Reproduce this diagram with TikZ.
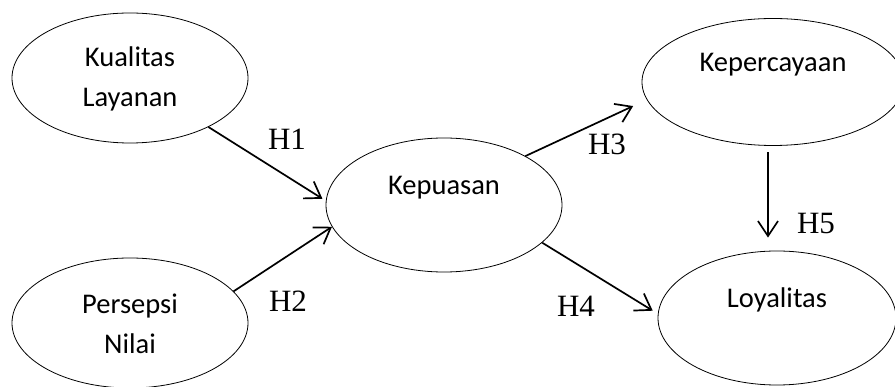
\documentclass[tikz,border=0pt]{standalone}
\usepackage{fontspec}
\setmainfont{Liberation Serif}
\newfontfamily\calib{Carlito}
\usetikzlibrary{shapes.geometric,arrows.meta}

\tikzset{
  oval/.style={draw, ellipse, line width=0.8pt, inner sep=0pt, align=center,
    font=\calib\fontsize{28.5}{40}\selectfont},
  twoline/.style={text height=62pt},
  oneline/.style={text height=20pt, text depth=40pt},
  path arrow/.style={line width=1.7pt,
    -{Straight Barb[length=15pt,width=20pt]}},
  hyp/.style={font=\fontsize{31}{36}\selectfont, inner sep=0pt}
}

\begin{document}
\begin{tikzpicture}[x=1pt,y=-1pt]
  \useasboundingbox[fill=white] (0,0) rectangle (895,387);

  % constructs
  \node[oval, twoline, minimum width=236pt, minimum height=130pt] (kl) at (130,78)
    {Kualitas\\Layanan};
  \node[oval, twoline, minimum width=236pt, minimum height=130pt] (pn) at (130,323)
    {Persepsi\\Nilai};
  \node[oval, oneline, minimum width=236pt, minimum height=134pt] (kp) at (444,205)
    {Kepuasan};
  \node[oval, oneline, minimum width=262pt, minimum height=127pt] (kc) at (773,82)
    {Kepercayaan};
  \node[oval, oneline, minimum width=238pt, minimum height=134pt] (ly) at (777,318)
    {Loyalitas};

  % hypothesised paths
  \draw[path arrow, shorten >=4pt] (kl.-32) -- (kp.178);
  \draw[path arrow] (pn.17) -- (kp.191);
  \draw[path arrow, shorten >=15pt] (kp.31) -- (kc.188.5);
  \draw[path arrow, shorten >=6pt] (kp.-21.6) -- (ly.178.6);
  \draw[path arrow] ([xshift=-5pt,yshift=-6.5pt]kc.south)
    -- ([xshift=-9pt,yshift=13pt]ly.north);

  % path labels
  \node[hyp] (h1) at (287,139) {H1};
  \node[hyp] (h2) at (288,301) {H2};
  \node[hyp] (h3) at (607,144) {H3};
  \node[hyp] (h4) at (576,306) {H4};
  \node[hyp] (h5) at (816,224) {H5};
\end{tikzpicture}
\end{document}
